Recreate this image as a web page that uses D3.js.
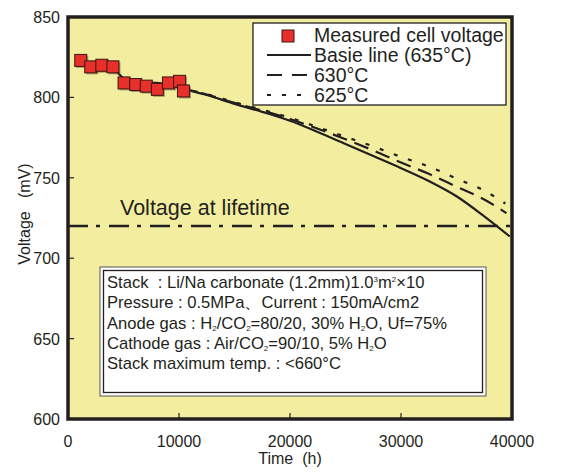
<!DOCTYPE html>
<html>
<head>
<meta charset="utf-8">
<script src="https://cdn.jsdelivr.net/npm/d3@7"></script>
<style>
  body { margin: 0; background: #fff; }
  svg text { font-family: "Liberation Sans", Arial, Helvetica, sans-serif; fill: #231f20; }
</style>
</head>
<body>
<div id="chart"></div>
<script>
// Measured cell voltage (time h, voltage mV)
const measuredTime = [1150, 2050, 3050, 4050, 5050, 6100, 7050, 8050, 9050, 10050, 10400];
const measuredVolt = [823, 819, 820, 819, 809, 808, 807, 805, 809, 810, 804];

// Basie line (635°C)
const baseTime = [1000, 2000, 3000, 4000, 5000, 6000, 7000, 8000, 9000, 10000, 12500, 15000, 17500, 20000, 22500, 25000, 27500, 30000, 32500, 35000, 37500, 39800];
const baseVolt = [822, 820, 819.5, 818, 812, 809.5, 809, 809, 808, 806, 801.5, 796, 791, 785.5, 778.5, 771, 763.5, 756, 748, 738.5, 726, 713.5];

// 630°C
const t630Time = [10000, 12500, 15000, 17500, 20000, 22500, 25000, 27500, 30000, 32500, 35000, 37500, 39500];
const t630Volt = [806, 801.8, 796.6, 791.8, 786.6, 780.5, 774, 767, 759.5, 752.5, 744.5, 736.5, 728];

// 625°C
const t625Time = [10000, 12500, 15000, 17500, 20000, 22500, 25000, 27500, 30000, 32500, 35000, 37500, 39400];
const t625Volt = [806, 802, 797, 792.3, 787.3, 781.5, 775.5, 769.5, 763, 757, 749.5, 742, 734];

const lifetimeVolt = 720;

const xTicks = [0, 10000, 20000, 30000, 40000];
const yTicks = [600, 650, 700, 750, 800, 850];

const legendLabels = ["Measured cell voltage", "Basie line (635°C)", "630°C", "625°C"];

const W = 564, H = 473;
const x = d3.scaleLinear().domain([0, 40000]).range([68, 512]);
const y = d3.scaleLinear().domain([600, 850]).range([419, 17]);

const svg = d3.select("#chart").append("svg")
  .attr("width", W).attr("height", H);

// plot background
svg.append("rect")
  .attr("x", x(0)).attr("y", y(850))
  .attr("width", x(40000) - x(0)).attr("height", y(600) - y(850))
  .attr("fill", "#f3ee9f");

// inward ticks
svg.append("g").selectAll("line")
  .data(yTicks.slice(1, -1))
  .enter().append("line")
  .attr("x1", x(0)).attr("x2", x(0) + 6)
  .attr("y1", (d) => y(d)).attr("y2", (d) => y(d))
  .attr("stroke", "#231f20").attr("stroke-width", 1.2);
svg.append("g").selectAll("line")
  .data(xTicks.slice(1, -1))
  .enter().append("line")
  .attr("x1", (d) => x(d)).attr("x2", (d) => x(d))
  .attr("y1", y(600)).attr("y2", y(600) - 6)
  .attr("stroke", "#231f20").attr("stroke-width", 1.2);

// tick labels
svg.append("g").selectAll("text")
  .data(yTicks)
  .enter().append("text")
  .attr("x", 60).attr("y", (d) => y(d) + 6)
  .attr("text-anchor", "end")
  .attr("font-size", 16)
  .text((d) => d);
svg.append("g").selectAll("text")
  .data(xTicks)
  .enter().append("text")
  .attr("x", (d) => x(d)).attr("y", 447)
  .attr("text-anchor", "middle")
  .attr("font-size", 16)
  .text((d) => d);

// axis titles
svg.append("text")
  .attr("x", 290).attr("y", 464)
  .attr("text-anchor", "middle")
  .attr("font-size", 16)
  .style("white-space", "pre")
  .text("Time  (h)");
svg.append("text")
  .attr("transform", "translate(30,214) rotate(-90)")
  .attr("text-anchor", "middle")
  .attr("font-size", 16)
  .style("white-space", "pre")
  .text("Voltage   (mV)");

// info box
svg.append("rect")
  .attr("x", 100).attr("y", 267).attr("width", 386).attr("height", 129)
  .attr("fill", "#fff").attr("stroke", "#555").attr("stroke-width", 1);
svg.append("rect")
  .attr("x", 103.5).attr("y", 270.5).attr("width", 379).attr("height", 122)
  .attr("fill", "#fff").attr("stroke", "#231f20").attr("stroke-width", 1.3);

const info = svg.append("g").attr("font-size", 16.6);
function infoLine(yy, parts) {
  const t = info.append("text").attr("x", 107).attr("y", yy).style("white-space", "pre");
  parts.forEach((p) => {
    const s = t.append("tspan").text(p[0]);
    if (p[1] === "sup") s.attr("font-size", 8).attr("dy", -6);
    if (p[1] === "sub") s.attr("font-size", 8).attr("dy", 2);
    if (p[1] === "reset") s.attr("dy", p[2]);
  });
}
infoLine(288, [["Stack  : Li/Na carbonate (1.2mm)1.0"], ["3", "sup"], ["m", "reset", 6], ["2", "sup"], ["×10", "reset", 6]]);
infoLine(308, [["Pressure : 0.5MPa"], ["、", "reset", 0], ["Current : 150mA/cm2"]]);
infoLine(329, [["Anode gas : H"], ["2", "sub"], ["/CO", "reset", -2], ["2", "sub"], ["=80/20, 30% H", "reset", -2], ["2", "sub"], ["O, Uf=75%", "reset", -2]]);
infoLine(349, [["Cathode gas : Air/CO"], ["2", "sub"], ["=90/10, 5% H", "reset", -2], ["2", "sub"], ["O", "reset", -2]]);
infoLine(369, [["Stack maximum temp. : <660°C"]]);

// lifetime line
svg.append("line")
  .attr("x1", x(0)).attr("x2", x(40000))
  .attr("y1", y(lifetimeVolt)).attr("y2", y(lifetimeVolt))
  .attr("stroke", "#231f20").attr("stroke-width", 2.5)
  .attr("stroke-dasharray", "20,8,4,9");
svg.append("text")
  .attr("x", 120).attr("y", 215)
  .attr("font-size", 21.5)
  .text("Voltage at lifetime");

// prediction curves
const line = d3.line().x((d) => x(d[0])).y((d) => y(d[1])).curve(d3.curveMonotoneX);
const curves = [
  { t: t625Time, v: t625Volt, dash: "4,11" },
  { t: t630Time, v: t630Volt, dash: "15,8" },
  { t: baseTime, v: baseVolt, dash: null },
];
curves.forEach((c) => {
  svg.append("path")
    .datum(c.t.map((d, i) => [d, c.v[i]]))
    .attr("d", line)
    .attr("fill", "none")
    .attr("stroke", "#231f20")
    .attr("stroke-width", 2.2)
    .attr("stroke-dasharray", c.dash);
});

// measured points with shadow
const pts = measuredTime.map((d, i) => [d, measuredVolt[i]]);
const ms = 12;
svg.append("g").selectAll("rect")
  .data(pts)
  .enter().append("rect")
  .attr("x", (d) => x(d[0]) - ms / 2 + 1.5).attr("y", (d) => y(d[1]) - ms / 2 + 1.5)
  .attr("width", ms).attr("height", ms)
  .attr("fill", "#6b6040").attr("opacity", 0.55);
svg.append("g").selectAll("rect")
  .data(pts)
  .enter().append("rect")
  .attr("x", (d) => x(d[0]) - ms / 2).attr("y", (d) => y(d[1]) - ms / 2)
  .attr("width", ms).attr("height", ms)
  .attr("fill", "#e8302a").attr("stroke", "#3a1510").attr("stroke-width", 1);

// legend
const lg = svg.append("g");
lg.append("rect")
  .attr("x", 253).attr("y", 23).attr("width", 253).attr("height", 82)
  .attr("fill", "#fff").attr("stroke", "#231f20").attr("stroke-width", 1.3);
lg.append("rect")
  .attr("x", 282).attr("y", 30).attr("width", 12).attr("height", 12)
  .attr("fill", "#e8302a").attr("stroke", "#3a1510").attr("stroke-width", 1);
[null, "15,10", "4,11"].forEach((dash, i) => {
  lg.append("line")
    .attr("x1", 267).attr("x2", 311)
    .attr("y1", 55 + i * 20).attr("y2", 55 + i * 20)
    .attr("stroke", "#231f20").attr("stroke-width", 2)
    .attr("stroke-dasharray", dash);
});
lg.selectAll("text")
  .data(legendLabels)
  .enter().append("text")
  .attr("x", 314).attr("y", (d, i) => 42 + i * 20)
  .attr("font-size", 19.5)
  .text((d) => d);

// frame
svg.append("rect")
  .attr("x", x(0)).attr("y", y(850))
  .attr("width", x(40000) - x(0)).attr("height", y(600) - y(850))
  .attr("fill", "none").attr("stroke", "#231f20").attr("stroke-width", 3.5);
</script>
</body>
</html>
